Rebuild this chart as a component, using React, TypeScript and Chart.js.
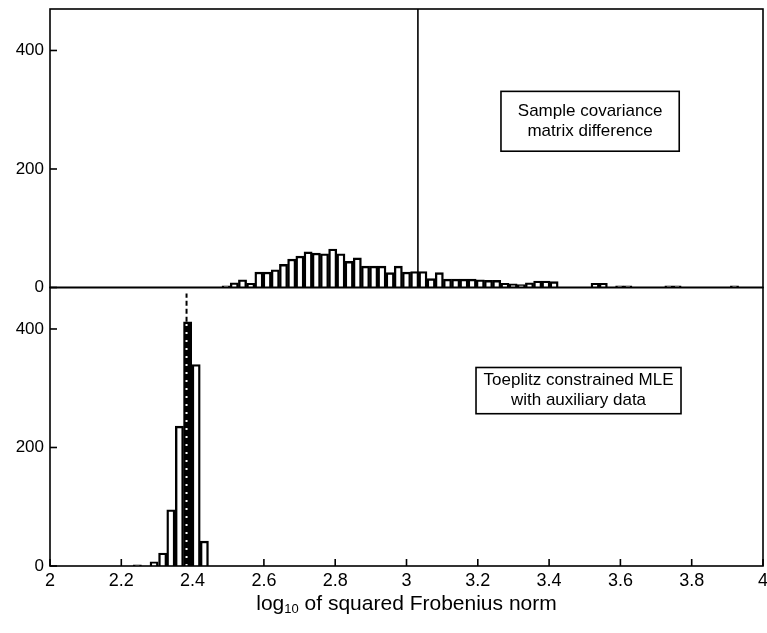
import React, { useEffect, useRef } from 'react';
import { Chart, registerables } from 'chart.js';

Chart.register(...registerables);

const FONT = "'Liberation Sans', Arial, Helvetica, sans-serif";

// ---- axes ----
const xLimits = [2, 4];
const xTickStep = 0.2;
const yLimits = [0, 470];
const yTickStep = 200;

// ---- top panel: sample covariance matrix difference ----
const sampleBinCenters = [
  2.494, 2.517, 2.540, 2.563, 2.586, 2.609, 2.632, 2.655, 2.678, 2.701,
  2.724, 2.747, 2.770, 2.793, 2.816, 2.839, 2.862, 2.885, 2.908, 2.931,
  2.954, 2.977, 3.000, 3.023, 3.046, 3.069, 3.092, 3.115, 3.138, 3.161,
  3.184, 3.207, 3.230, 3.253, 3.276, 3.299, 3.322, 3.345, 3.368, 3.391,
  3.414, 3.529, 3.552, 3.598, 3.621, 3.736, 3.759, 3.920,
];
const sampleCounts = [
  3, 8, 13, 7, 26, 26, 30, 39, 48, 53,
  60, 58, 57, 65, 57, 44, 50, 36, 36, 36,
  25, 36, 26, 27, 27, 15, 25, 14, 14, 14,
  14, 13, 12, 12, 7, 6, 5, 8, 11, 11,
  10, 7, 7, 3, 3, 3, 3, 3,
];
const sampleMarkerX = 3.032;

// ---- bottom panel: Toeplitz constrained MLE with auxiliary data ----
const toeplitzBinCenters = [2.245, 2.292, 2.316, 2.339, 2.363, 2.386, 2.410, 2.433];
const toeplitzCounts = [2, 7, 22, 95, 236, 412, 340, 42];
const toeplitzMarkerX = 2.383;
const toeplitzMarkerTop = 460;

// ---- text ----
const sampleLabelLines = ['Sample covariance', 'matrix difference'];
const toeplitzLabelLines = ['Toeplitz constrained MLE', 'with auxiliary data'];
const axisTitleParts = ['log', '10', ' of squared Frobenius norm'];

function binHalfWidth(centers: number[]) {
  let m = Infinity;
  for (let i = 1; i < centers.length; i++) m = Math.min(m, centers[i] - centers[i - 1]);
  return m / 2;
}

const toeplitzHalf = binHalfWidth(toeplitzBinCenters);
const markerBinIndex = toeplitzBinCenters.findIndex(c => Math.abs(c - toeplitzMarkerX) <= toeplitzHalf);
const markerBinCount = markerBinIndex >= 0 ? toeplitzCounts[markerBinIndex] : 0;

const labelBoxes = [
  { yAxisID: 'yTop', x: [3.265, 3.765], y: [230, 331], lines: sampleLabelLines },
  { yAxisID: 'yBottom', x: [3.195, 3.770], y: [257, 335], lines: toeplitzLabelLines },
];

const framePlugin = {
  id: 'panelFrames',
  afterDatasetsDraw(chart: any) {
    const { ctx, chartArea, scales } = chart;
    const { left, right } = chartArea;
    const tick = 7;
    ctx.save();
    ctx.strokeStyle = '#000';
    ctx.lineWidth = 1.6;
    ['yTop', 'yBottom'].forEach((id) => {
      const s = scales[id];
      ctx.strokeRect(left, s.top, right - left, s.bottom - s.top);
      s.ticks.forEach((t: any) => {
        const py = s.getPixelForValue(t.value);
        ctx.beginPath();
        ctx.moveTo(left, py);
        ctx.lineTo(left + tick, py);
        ctx.stroke();
      });
    });
    const xs = scales.xBottom;
    const yb = scales.yBottom.bottom;
    xs.ticks.forEach((t: any) => {
      const px = xs.getPixelForValue(t.value);
      ctx.beginPath();
      ctx.moveTo(px, yb);
      ctx.lineTo(px, yb - tick);
      ctx.stroke();
    });
    ctx.restore();
  },
};

const labelBoxPlugin = {
  id: 'labelBoxes',
  afterDatasetsDraw(chart: any) {
    const { ctx, scales } = chart;
    const xs = scales.xBottom;
    labelBoxes.forEach((b) => {
      const ys = scales[b.yAxisID];
      const x1 = xs.getPixelForValue(b.x[0]);
      const x2 = xs.getPixelForValue(b.x[1]);
      const y1 = ys.getPixelForValue(b.y[1]);
      const y2 = ys.getPixelForValue(b.y[0]);
      ctx.save();
      ctx.fillStyle = '#fff';
      ctx.fillRect(x1, y1, x2 - x1, y2 - y1);
      ctx.strokeStyle = '#000';
      ctx.lineWidth = 1.6;
      ctx.strokeRect(x1, y1, x2 - x1, y2 - y1);
      ctx.fillStyle = '#000';
      ctx.font = `17px ${FONT}`;
      ctx.textAlign = 'center';
      ctx.textBaseline = 'middle';
      const cx = (x1 + x2) / 2;
      const cy = (y1 + y2) / 2;
      const lh = 20;
      b.lines.forEach((line, i) => {
        ctx.fillText(line, cx, cy + (i - (b.lines.length - 1) / 2) * lh);
      });
      ctx.restore();
    });
  },
};

const titlePlugin = {
  id: 'axisTitle',
  afterDraw(chart: any) {
    const { ctx, chartArea, scales } = chart;
    const [base, sub, rest] = axisTitleParts;
    const big = `21px ${FONT}`;
    const small = `13px ${FONT}`;
    ctx.save();
    ctx.fillStyle = '#000';
    ctx.textBaseline = 'alphabetic';
    ctx.textAlign = 'left';
    ctx.font = big;
    const wBase = ctx.measureText(base).width;
    const wRest = ctx.measureText(rest).width;
    ctx.font = small;
    const wSub = ctx.measureText(sub).width;
    const total = wBase + wSub + wRest;
    let x = (chartArea.left + chartArea.right) / 2 - total / 2;
    const y = scales.xBottom.bottom - 23;
    ctx.font = big;
    ctx.fillText(base, x, y);
    x += wBase;
    ctx.font = small;
    ctx.fillText(sub, x, y + 3);
    x += wSub;
    ctx.font = big;
    ctx.fillText(rest, x, y);
    ctx.restore();
  },
};

function yScale() {
  return {
    type: 'linear',
    axis: 'y',
    position: 'left',
    stack: 'panels',
    stackWeight: 1,
    min: yLimits[0],
    max: yLimits[1],
    grid: { display: false, drawTicks: false },
    border: { display: false },
    ticks: {
      stepSize: yTickStep,
      includeBounds: false,
      padding: 6,
      color: '#000',
      font: { family: FONT, size: 17 },
    },
    afterBuildTicks: (s: any) => {
      s.ticks = s.ticks.filter((t: any) => t.value % yTickStep === 0);
    },
    afterFit: (s: any) => {
      s.width = 50;
      s.paddingTop = 0;
      s.paddingBottom = 0;
    },
  };
}

export default function App() {
  const ref = useRef<HTMLCanvasElement>(null);

  useEffect(() => {
    if (!ref.current) return;
    const barStyle = {
      type: 'bar' as const,
      backgroundColor: '#fff',
      borderColor: '#000',
      borderWidth: 2.4,
      categoryPercentage: 1,
      barPercentage: 1,
      grouped: false,
      order: 2,
    };
    const lineStyle = {
      type: 'line' as const,
      pointRadius: 0,
      fill: false,
      order: 0,
    };
    const chart = new Chart(ref.current, {
      type: 'bar',
      data: {
        datasets: [
          {
            ...barStyle,
            label: 'Sample covariance matrix difference',
            xAxisID: 'xTop',
            yAxisID: 'yTop',
            data: sampleBinCenters.map((x, i) => ({ x, y: sampleCounts[i] })),
          },
          {
            ...barStyle,
            label: 'Toeplitz constrained MLE with auxiliary data',
            xAxisID: 'xBottom',
            yAxisID: 'yBottom',
            data: toeplitzBinCenters.map((x, i) => ({ x, y: toeplitzCounts[i] })),
            backgroundColor: (c: any) =>
              c.raw && Math.abs(c.raw.x - toeplitzMarkerX) <= toeplitzHalf ? '#000' : '#fff',
          },
          {
            ...lineStyle,
            label: 'sample marker',
            xAxisID: 'xTop',
            yAxisID: 'yTop',
            borderColor: '#000',
            borderWidth: 1.6,
            data: [
              { x: sampleMarkerX, y: yLimits[0] },
              { x: sampleMarkerX, y: yLimits[1] },
            ],
          },
          {
            ...lineStyle,
            label: 'toeplitz marker (above bar)',
            xAxisID: 'xBottom',
            yAxisID: 'yBottom',
            borderColor: '#000',
            borderWidth: 2,
            borderDash: [5, 3],
            data: [
              { x: toeplitzMarkerX, y: markerBinCount },
              { x: toeplitzMarkerX, y: toeplitzMarkerTop },
            ],
          },
          {
            ...lineStyle,
            label: 'toeplitz marker (inside bar)',
            xAxisID: 'xBottom',
            yAxisID: 'yBottom',
            borderColor: '#fff',
            borderWidth: 2,
            borderDash: [2, 6],
            data: [
              { x: toeplitzMarkerX, y: 0 },
              { x: toeplitzMarkerX, y: markerBinCount },
            ],
          },
        ] as any,
      },
      options: {
        responsive: false,
        animation: false,
        devicePixelRatio: 1,
        layout: { padding: { top: 9, right: 4, left: 0, bottom: 0 } },
        plugins: {
          legend: { display: false },
          tooltip: { enabled: false },
        },
        scales: {
          xTop: {
            type: 'linear',
            axis: 'x',
            position: 'bottom',
            display: false,
            offset: false,
            min: xLimits[0],
            max: xLimits[1],
          },
          xBottom: {
            type: 'linear',
            axis: 'x',
            position: 'bottom',
            offset: false,
            min: xLimits[0],
            max: xLimits[1],
            grid: { display: false, drawTicks: false, offset: false },
            border: { display: false },
            ticks: {
              stepSize: xTickStep,
              autoSkip: false,
              maxRotation: 0,
              padding: 4,
              color: '#000',
              font: { family: FONT, size: 18 },
              callback: (v: any) => String(Number(Number(v).toFixed(1))),
            },
            afterFit: (s: any) => {
              s.height = 67;
              s.paddingLeft = 0;
              s.paddingRight = 0;
            },
          },
          // stacked layout places the later-declared scale on top
          yBottom: yScale(),
          yTop: yScale(),
        } as any,
      },
      plugins: [framePlugin, labelBoxPlugin, titlePlugin],
    });
    return () => chart.destroy();
  }, []);

  return (
    <div style={{ position: 'fixed', left: 0, top: 0, width: 767, height: 633, background: '#fff' }}>
      <canvas ref={ref} width={767} height={633} style={{ display: 'block' }} />
    </div>
  );
}
